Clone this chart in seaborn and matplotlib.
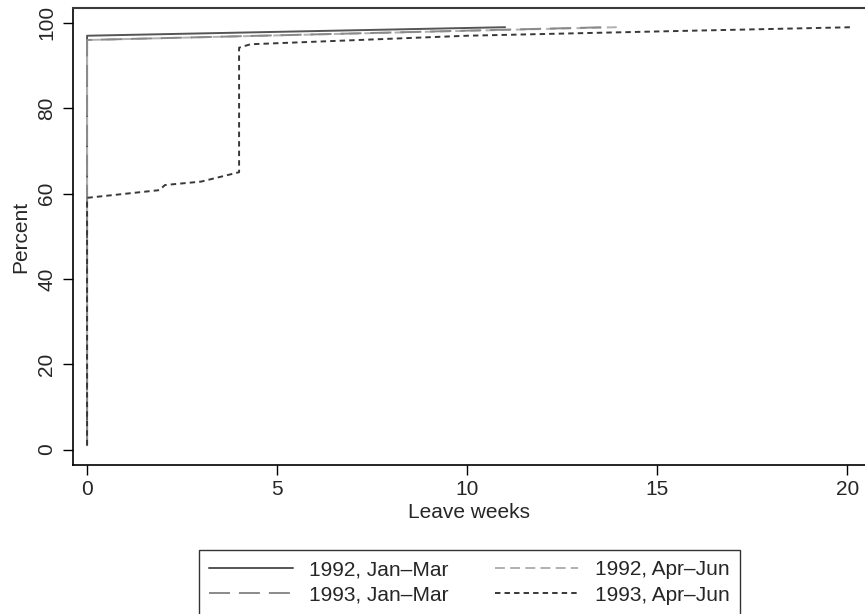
import matplotlib
matplotlib.use("Agg")
import matplotlib.pyplot as plt
import seaborn as sns
import pandas as pd

# ---- data ----
x_92_jm = [0, 0, 11.0]
y_92_jm = [1, 97, 99]

x_92_aj = [0, 0, 13.95]
y_92_aj = [1, 96, 99]

x_93_jm = [0, 0, 13.65]
y_93_jm = [1, 96, 99]

x_93_aj = [0, 0, 1.9, 2.05, 3.0, 4.0, 4.0, 4.3, 10.0, 15.0, 20.15]
y_93_aj = [1, 59, 60.8, 62.0, 62.8, 65.0, 94.2, 95.0, 97.0, 98.0, 99.0]

labels = ["1992, Jan\u2013Mar", "1992, Apr\u2013Jun", "1993, Jan\u2013Mar", "1993, Apr\u2013Jun"]
xticks = [0, 5, 10, 15, 20]
yticks = [0, 20, 40, 60, 80, 100]

series = [(x_92_jm, y_92_jm), (x_92_aj, y_92_aj), (x_93_jm, y_93_jm), (x_93_aj, y_93_aj)]
frames = []
for lab, (xs, ys) in zip(labels, series):
    frames.append(pd.DataFrame({"weeks": xs, "pct": ys, "group": lab}))
df = pd.concat(frames, ignore_index=True)

sns.set_style("white")
plt.rcParams["font.family"] = ["Liberation Sans", "DejaVu Sans"]
FS = 15

fig = plt.figure(figsize=(8.65, 6.14), dpi=100)
ax = fig.add_axes([73 / 865, 1 - 465 / 614, 1 - 73 / 865, (465 - 8) / 614])

styles = {
    labels[0]: dict(color="#555555", linestyle="-"),
    labels[1]: dict(color="#b0b0b0", linestyle=(0, (5.1, 2.7))),
    labels[2]: dict(color="#8a8a8a", linestyle=(0, (10.8, 4.6))),
    labels[3]: dict(color="#383838", linestyle=(0, (2.8, 2.1))),
}
handles = {}
for lab in labels:
    sub = df[df["group"] == lab]
    sns.lineplot(data=sub, x="weeks", y="pct", sort=False, estimator=None,
                 ax=ax, linewidth=1.4, label=lab, **styles[lab])
    handles[lab] = ax.lines[-1]

if ax.get_legend() is not None:
    ax.get_legend().remove()

ax.set_xlim(-0.37, 20.47)
ax.set_ylim(-3.63, 103.5)
ax.set_xticks(xticks)
ax.set_yticks(yticks)
ax.set_xticklabels([str(t) for t in xticks], fontsize=FS)
ax.set_yticklabels([str(t) for t in yticks], fontsize=FS, rotation=90, va="center")
ax.set_xlabel("Leave weeks", fontsize=FS, labelpad=3)
ax.set_ylabel("Percent", fontsize=FS, labelpad=5)
ax.tick_params(axis="x", which="both", direction="out", length=7, width=1,
               color="black", bottom=True, pad=3.5)
ax.tick_params(axis="y", which="both", direction="out", length=7, width=1,
               color="black", left=True, pad=5)
for s in ["left", "bottom"]:
    ax.spines[s].set_color("black")
    ax.spines[s].set_linewidth(1.2)
ax.spines["top"].set_color("#3a3a3a")
ax.spines["top"].set_linewidth(1.5)
ax.spines["right"].set_visible(False)
ax.grid(False)

order = [labels[0], labels[2], labels[1], labels[3]]
leg = fig.legend([handles[l] for l in order], order, ncol=2,
                 loc="upper center", bbox_to_anchor=(469.5 / 865, 1 - 550 / 614),
                 frameon=True, fancybox=False, fontsize=FS, handlelength=4.0,
                 columnspacing=2.2, borderpad=0.5, labelspacing=0.3,
                 handletextpad=0.8, borderaxespad=0)
leg.get_frame().set_edgecolor("black")
leg.get_frame().set_linewidth(1.0)

fig.savefig("out.png", dpi=100)
